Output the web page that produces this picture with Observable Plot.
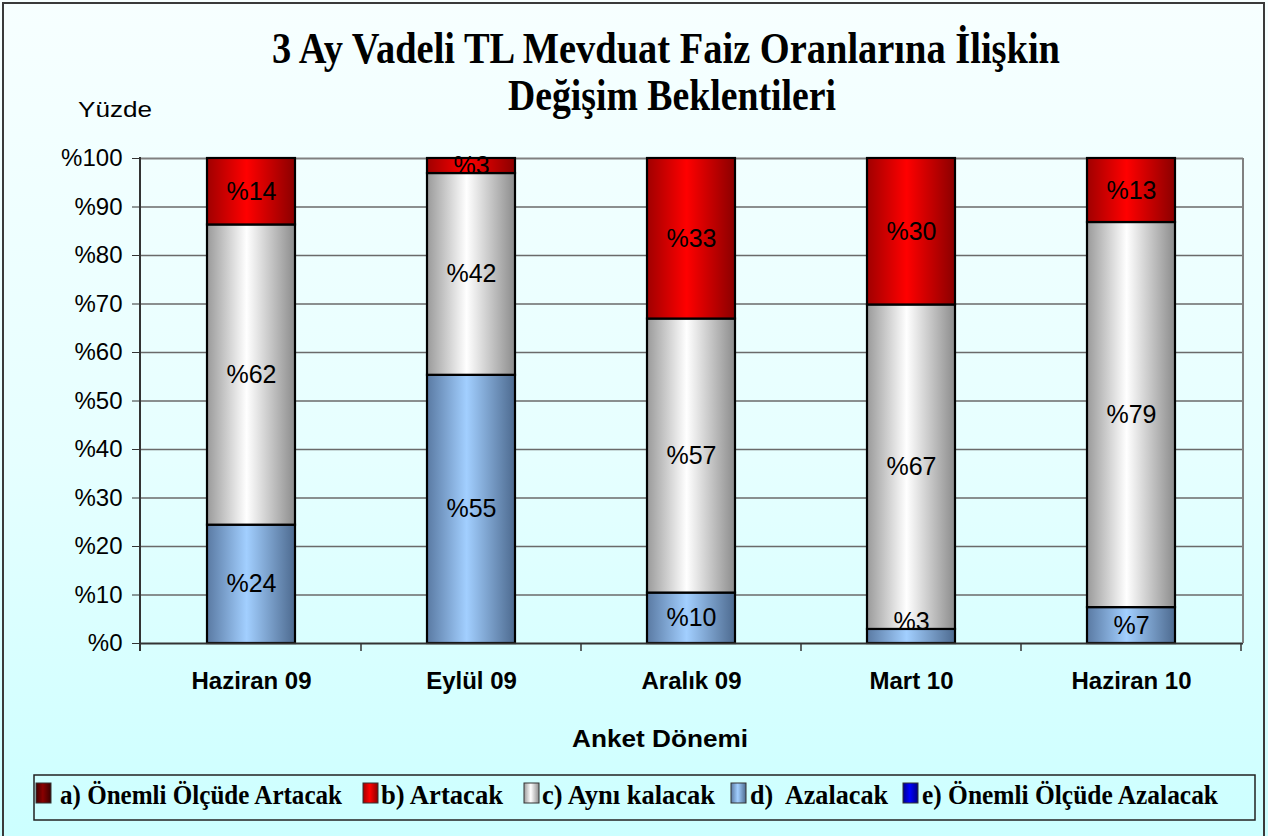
<!DOCTYPE html>
<html><head><meta charset="utf-8">
<script src="https://cdn.jsdelivr.net/npm/d3@7"></script>
<script src="https://cdn.jsdelivr.net/npm/@observablehq/plot@0.6"></script>
<style>
html,body{margin:0;padding:0;background:#ccffff;}
#wrap{position:relative;width:1268px;height:836px;background:linear-gradient(to bottom,#f7ffff 0%,#e6ffff 55%,#ccffff 100%);overflow:hidden}
#wrap svg{position:absolute;left:0;top:0;background:transparent;overflow:visible}
#frame{position:absolute;left:2px;top:2px;width:1263px;height:840px;border:2px solid #3a3a3a;box-sizing:border-box;pointer-events:none}
</style></head><body><div id="wrap"><div id="frame"></div></div>
<script>
// ---- data ----
const periods = ["Haziran 09", "Eylül 09", "Aralık 09", "Mart 10", "Haziran 10"];
const seriesNames = ["a) Önemli Ölçüde Artacak", "b) Artacak", "c) Aynı kalacak", "d)  Azalacak", "e) Önemli Ölçüde Azalacak"];
const onemliArtacak = [0, 0, 0, 0, 0];
const artacak = [13.7, 3.1, 33.1, 30.2, 13.2];
const ayniKalacak = [61.9, 41.6, 56.5, 66.9, 79.4];
const azalacak = [24.4, 55.3, 10.4, 2.9, 7.4];
const onemliAzalacak = [0, 0, 0, 0, 0];
const yTicks = [0, 10, 20, 30, 40, 50, 60, 70, 80, 90, 100];
const titleLines = ["3 Ay Vadeli TL Mevduat Faiz Oranlarına İlişkin", "Değişim Beklentileri"];
const yLabel = "Yüzde";
const xLabel = "Anket Dönemi";

// stacking order bottom -> top
const stackOrder = [
  [seriesNames[4], onemliAzalacak],
  [seriesNames[3], azalacak],
  [seriesNames[2], ayniKalacak],
  [seriesNames[1], artacak],
  [seriesNames[0], onemliArtacak]
];
const rows = [];
periods.forEach((p, i) => {
  stackOrder.forEach(([s, vals]) => { if (vals[i] > 0) rows.push({period: p, series: s, value: vals[i]}); });
});

const gradIds = ["gA", "gB", "gC", "gD", "gE"];
const gradStops = [
  ["#420000", "#8a0000", "#3a0000"],
  ["#a00000", "#ff0000", "#8a0000"],
  ["#9a9a9a", "#ffffff", "#8c8c8c"],
  ["#5a7aa3", "#a2cfff", "#4d6a8f"],
  ["#00008a", "#0000ff", "#000080"]
];

const lbl = d => "%" + Math.round(d.value);
const W = 1268, H = 836;
const plot = Plot.plot({
  width: W, height: H,
  marginLeft: 140, marginRight: 25, marginTop: 158, marginBottom: 193,
  style: {fontFamily: "'Liberation Sans', Arial, sans-serif", fontSize: "24px", color: "#000", background: "transparent"},
  x: {domain: periods, paddingInner: 0.6, paddingOuter: 0.3, label: null},
  y: {domain: [0, 100], label: null},
  color: {domain: seriesNames, range: gradIds.map(id => `url(#${id})`)},
  marks: [
    Plot.ruleY(yTicks.slice(1, -1), {stroke: "#6a6a6a", strokeWidth: 1.3}),
    Plot.ruleY([100], {stroke: "#808080", strokeWidth: 2.2}),
    Plot.barY(rows, {x: "period", y: "value", z: "series", fill: "series", stroke: "#000", strokeWidth: 2.2}),
    Plot.text(rows, Plot.stackY({x: "period", y: "value", z: "series", text: d => d.value >= 3 ? lbl(d) : null, fill: "#000", fontSize: 25, letterSpacing: -1.2})),
    Plot.text(rows, Plot.stackY({x: "period", y: "value", z: "series", text: d => d.value < 3 ? lbl(d) : null, fill: "#000", fontSize: 25, letterSpacing: -1.2, dy: -14})),
    Plot.axisY({ticks: yTicks, tickFormat: d => "%" + d, tickSize: 8, tickPadding: 10, stroke: "#333", fontSize: 24, letterSpacing: -1.5, label: null}),
    Plot.axisX({tickSize: 0, tickPadding: 28, fontWeight: "bold", fontSize: 24, letterSpacing: 0.6, label: null}),
    Plot.ruleY([0], {stroke: "#333", strokeWidth: 2})
  ]
});
document.getElementById("wrap").insertBefore(plot, document.getElementById("frame"));

const svg = d3.select(plot);
const defs = svg.insert("defs", ":first-child");
gradIds.forEach((id, i) => {
  const g = defs.append("linearGradient").attr("id", id).attr("x1", 0).attr("x2", 1).attr("y1", 0).attr("y2", 0);
  g.append("stop").attr("offset", 0).attr("stop-color", gradStops[i][0]);
  g.append("stop").attr("offset", 0.45).attr("stop-color", gradStops[i][1]);
  g.append("stop").attr("offset", 1).attr("stop-color", gradStops[i][2]);
});

// axes frame pieces from library scales
const xs = plot.scale("x"), ys = plot.scale("y");
const [xl, xr] = xs.range;
const y0 = ys.apply(0), y100 = ys.apply(100);
const ov = svg.append("g");
ov.append("line").attr("x1", xr).attr("x2", xr).attr("y1", y100).attr("y2", y0).attr("stroke", "#808080").attr("stroke-width", 2);
ov.append("line").attr("x1", xl).attr("x2", xl).attr("y1", y100 - 1).attr("y2", y0 + 8).attr("stroke", "#333").attr("stroke-width", 2);
periods.forEach((p, i) => {
  const bx = xs.apply(p) + xs.bandwidth / 2 + xs.step / 2;
  ov.append("line").attr("x1", bx).attr("x2", bx).attr("y1", y0).attr("y2", y0 + 8).attr("stroke", "#333").attr("stroke-width", 1.5);
});

// title
const titleG = svg.append("g").attr("text-anchor", "start").attr("font-family", "'Liberation Serif', 'Times New Roman', serif").attr("font-weight", "bold").attr("fill", "#000");
titleG.append("text").attr("x", 272).attr("y", 63).attr("font-size", 44).attr("textLength", 788).attr("lengthAdjust", "spacingAndGlyphs").text(titleLines[0]);
titleG.append("text").attr("x", 508).attr("y", 110).attr("font-size", 44).attr("textLength", 328).attr("lengthAdjust", "spacingAndGlyphs").text(titleLines[1]);

// axis labels
const lab = svg.append("g").attr("text-anchor", "start").attr("fill", "#000");
lab.append("text").attr("x", 78).attr("y", 117).attr("font-size", 22).attr("textLength", 74).attr("lengthAdjust", "spacingAndGlyphs").text(yLabel);
lab.append("text").attr("x", 572).attr("y", 747).attr("font-size", 23).attr("font-weight", "bold").attr("textLength", 176).attr("lengthAdjust", "spacingAndGlyphs").text(xLabel);

// legend
const lg = svg.append("g").attr("text-anchor", "start");
lg.append("rect").attr("x", 34).attr("y", 775).attr("width", 1221).attr("height", 45).attr("fill", "none").attr("stroke", "#222").attr("stroke-width", 1.5);
const legendItems = [
  {sw: 36, tx: 60, tl: 282},
  {sw: 363, tx: 381, tl: 122},
  {sw: 524, tx: 542, tl: 173},
  {sw: 731, tx: 750, tl: 138},
  {sw: 903, tx: 922, tl: 296}
];
legendItems.forEach((it, i) => {
  lg.append("rect").attr("x", it.sw).attr("y", 783).attr("width", 15).attr("height", 20).attr("fill", `url(#${gradIds[i]})`).attr("stroke", "#333").attr("stroke-width", 1);
  lg.append("text").attr("x", it.tx).attr("y", 804).attr("font-family", "'Liberation Serif', 'Times New Roman', serif").attr("font-weight", "bold").attr("font-size", 28).attr("textLength", it.tl).attr("lengthAdjust", "spacingAndGlyphs").attr("fill", "#000").style("white-space", "pre").text(seriesNames[i]);
});
</script></body></html>
